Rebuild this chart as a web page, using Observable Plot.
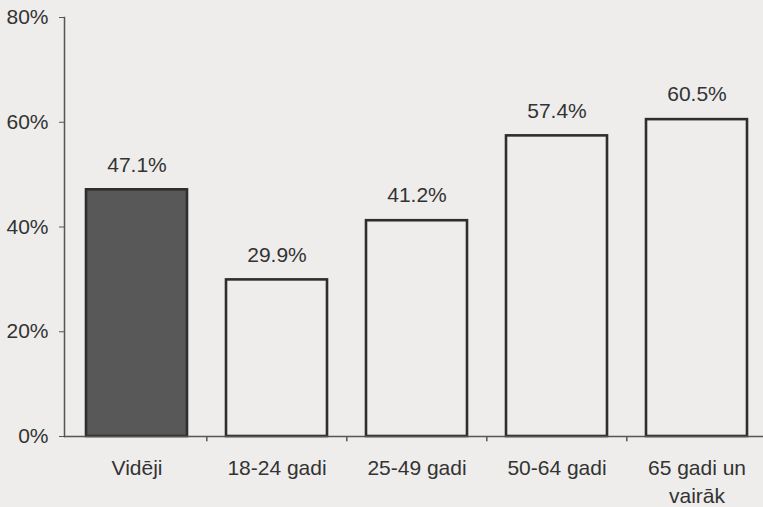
<!DOCTYPE html>
<html><head><meta charset="utf-8">
<script src="https://cdn.jsdelivr.net/npm/d3@7"></script>
<script src="https://cdn.jsdelivr.net/npm/@observablehq/plot@0.6"></script>
<style>html,body{margin:0;padding:0;background:#eeedeb}</style>
</head><body><div id="chart"></div>
<script>
const categories = ["Vidēji", "18-24 gadi", "25-49 gadi", "50-64 gadi", "65 gadi un\nvairāk"];
const values = [47.1, 29.9, 41.2, 57.4, 60.5];
const valueLabels = ["47.1%", "29.9%", "41.2%", "57.4%", "60.5%"];
const yTicks = [0, 20, 40, 60, 80];
const highlighted = "Vidēji";

const data = categories.map((c, i) => ({category: c, value: values[i], label: valueLabels[i]}));
const ink = "#333333";

const plot = Plot.plot({
  width: 763, height: 507,
  marginLeft: 64, marginTop: 17, marginBottom: 71, marginRight: 0,
  style: {background: "#eeedeb", fontFamily: "'Liberation Sans', Arial, sans-serif", fontSize: "21px", color: ink},
  x: {domain: categories, range: [64, 769], paddingInner: 0.28, paddingOuter: 0.15, axis: null},
  y: {domain: [0, 80], axis: null},
  marks: [
    Plot.frame({anchor: "left", stroke: "#555", strokeWidth: 1.5}),
    Plot.axisY({ticks: yTicks, tickFormat: d => d + "%", tickSize: 5, tickPadding: 11, label: null, stroke: "#555", fill: ink}),
    Plot.barY(data, {x: "category", y: "value",
      fill: d => d.category === highlighted ? "#585858" : "#eeedeb",
      stroke: "#2e2e2e", strokeWidth: 2.6}),
    Plot.ruleY([0], {stroke: "#555", strokeWidth: 1.5}),
    Plot.ruleX(categories.slice(1), {x: d => d, y1: 0, y2: -1, dx: -70.2, stroke: "#555", strokeWidth: 1.5}),
    Plot.text(data, {x: "category", y: "value", text: "label", dy: -25, lineAnchor: "middle", fill: ink}),
    Plot.text(data, {x: "category", text: "category", frameAnchor: "bottom", lineAnchor: "top", dy: 19, lineHeight: 1.33, fill: ink})
  ]
});
document.getElementById("chart").appendChild(plot);
</script>
</body></html>
